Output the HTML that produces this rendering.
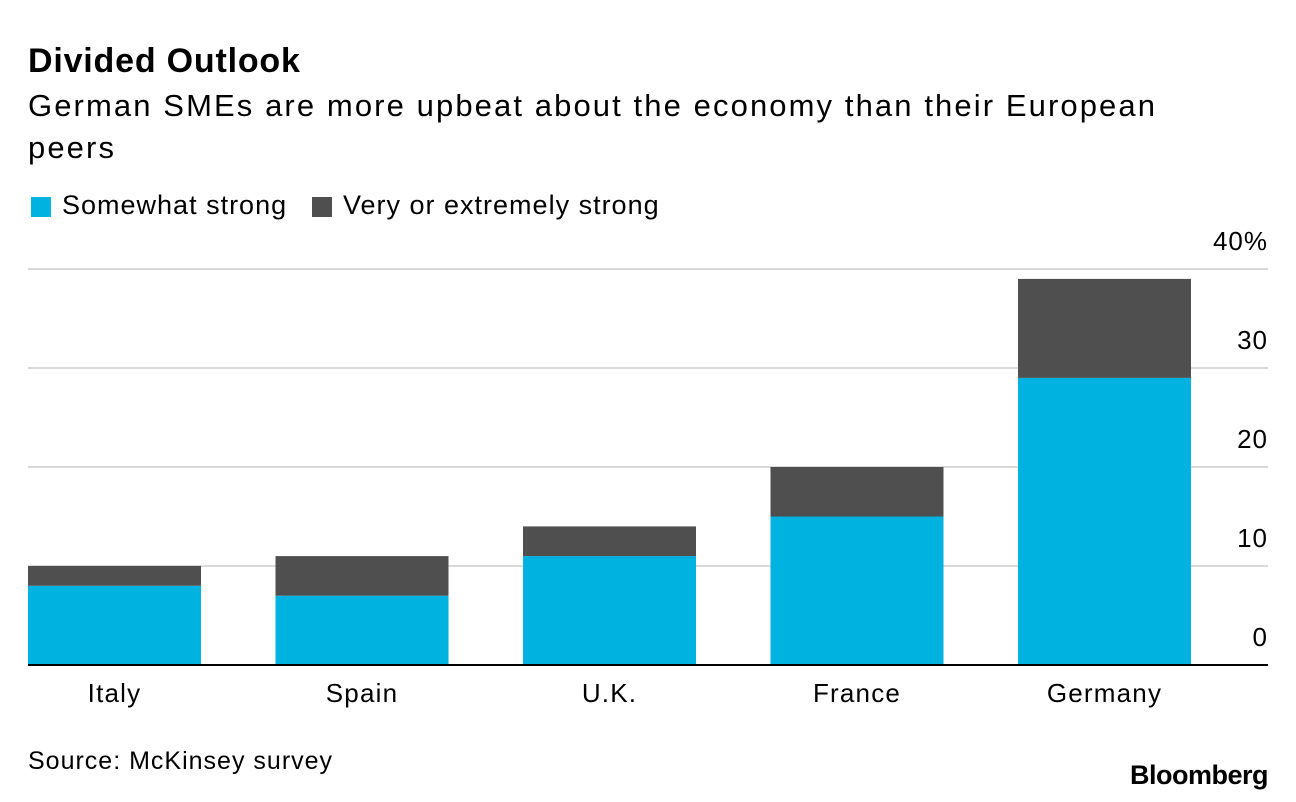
<!DOCTYPE html>
<html><head><meta charset="utf-8"><style>
body{margin:0;background:#fff;font-family:"Liberation Sans",Arial,sans-serif;}
#wrap{position:relative;width:1296px;height:802px;overflow:hidden;}
.t{position:absolute;white-space:nowrap;color:#000;}
</style></head><body><div id="wrap">
<div class="t" style="left:28px;top:42px;font-size:34px;font-weight:bold;letter-spacing:0.8px">Divided Outlook</div>
<div class="t" style="left:28px;top:85px;font-size:31px;letter-spacing:2.1px;line-height:42px;white-space:normal;width:1200px">German SMEs are more upbeat about the economy than their European peers</div>
<div>
<div style="position:absolute;left:31px;top:197px;width:20px;height:20px;background:#00b2e0"></div>
<div class="t" style="left:62px;top:190px;font-size:27px;letter-spacing:1px">Somewhat strong</div>
<div style="position:absolute;left:312px;top:197px;width:20px;height:20px;background:#4f4f4f"></div>
<div class="t" style="left:343px;top:190px;font-size:27px;letter-spacing:1px">Very or extremely strong</div>
</div>
<svg id="chart" width="1296" height="802" style="position:absolute;left:0;top:0"></svg>
<div class="t" style="left:28px;top:747px;font-size:25px;letter-spacing:1px">Source: McKinsey survey</div>
<div class="t" style="right:28px;top:760px;font-size:27px;font-weight:bold;letter-spacing:-0.5px">Bloomberg</div>
</div>
<script>
const categories=["Italy","Spain","U.K.","France","Germany"];
const somewhat=[8,7,11,15,29];
const very=[2,4,3,5,10];
const ticks=[0,10,20,30,40];
const tickLabels=["0","10","20","30","40%"];
const NS="http://www.w3.org/2000/svg";
const svg=document.getElementById('chart');
const y0=665,pxPer=9.9,left=28,right=1268,barW=173,step=247.5;
const y=v=>y0-v*pxPer;
const x=i=>left+i*step;
function mk(tag,attrs){const e=document.createElementNS(NS,tag);for(const k in attrs)e.setAttribute(k,attrs[k]);svg.appendChild(e);return e;}
ticks.forEach((t,i)=>{
 if(t!==0){const g=mk('line',{x1:left,x2:right,y1:y(t),y2:y(t),stroke:'#d9d9d9','stroke-width':2});
 
 }
 const tx=mk('text',{x:right,y:y(t)-19,'text-anchor':'end','font-size':26,'letter-spacing':1,'font-family':'Liberation Sans, Arial, sans-serif',fill:'#000'});
 tx.textContent=tickLabels[i];
 
 
});
categories.forEach((c,i)=>{
 const b1=mk('rect',{x:x(i),y:y(somewhat[i]),width:barW,height:somewhat[i]*pxPer,fill:'#00b2e0'});
 
 
 const b2=mk('rect',{x:x(i),y:y(somewhat[i]+very[i]),width:barW,height:very[i]*pxPer,fill:'#4f4f4f'});
 
 
 const l=mk('text',{x:x(i)+barW/2,y:702,'text-anchor':'middle','font-size':26,'letter-spacing':1.2,'font-family':'Liberation Sans, Arial, sans-serif',fill:'#000'});
 l.textContent=c;
 
 
});
const ax=mk('line',{x1:left,x2:right,y1:y0,y2:y0,stroke:'#000','stroke-width':2});


</script></body></html>
